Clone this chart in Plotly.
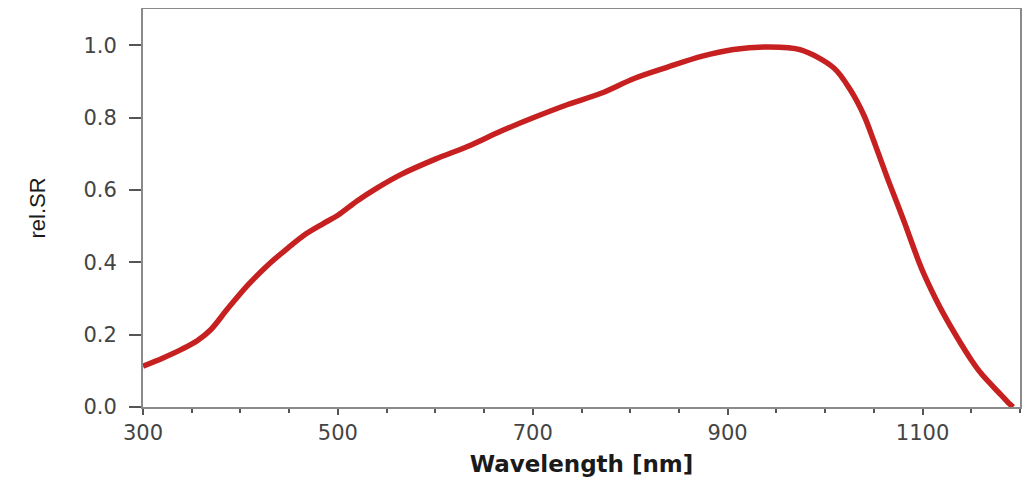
import plotly.graph_objects as go

wavelength = [300, 320, 340, 356, 370, 387, 408, 428, 449, 467, 485, 500, 520, 540,
              565, 600, 633, 667, 701, 736, 770, 804, 839, 873, 906, 941, 975, 1009,
              1026, 1040, 1050, 1065, 1080, 1095, 1101, 1110, 1120, 1136, 1150, 1160,
              1170, 1180, 1188, 1193]
rel_sr = [0.113, 0.135, 0.16, 0.184, 0.215, 0.272, 0.338, 0.392, 0.44, 0.478, 0.507,
          0.53, 0.57, 0.605, 0.643, 0.685, 0.72, 0.762, 0.80, 0.836, 0.867, 0.908,
          0.94, 0.969, 0.988, 0.995, 0.987, 0.937, 0.876, 0.805, 0.735, 0.625, 0.52,
          0.41, 0.37, 0.318, 0.265, 0.19, 0.13, 0.093, 0.063, 0.035, 0.012, 0.0]

x_ticks = [300, 500, 700, 900, 1100]
y_ticks = [0.0, 0.2, 0.4, 0.6, 0.8, 1.0]

fig = go.Figure()
fig.add_trace(go.Scatter(
    x=wavelength, y=rel_sr, mode="lines",
    line=dict(color="#C62020", width=5.5, shape="spline", smoothing=0.9),
    showlegend=False, hoverinfo="x+y",
))

fig.update_layout(
    width=1022, height=469,
    margin=dict(l=135, r=10, t=1, b=70),
    paper_bgcolor="white", plot_bgcolor="white",
    font=dict(family="DejaVu Sans", color="#444444"),
)
fig.update_xaxes(
    range=[300, 1200], tickvals=x_ticks, ticktext=[str(v) for v in x_ticks],
    automargin=False,
    showgrid=False, zeroline=False,
    showline=True, linecolor="#8a8a8a", linewidth=2, mirror=True,
    ticks="outside", ticklen=6, tickwidth=2, tickcolor="#555555",
    minor=dict(dtick=50, ticks="outside", ticklen=4, tickwidth=2, tickcolor="#555555", showgrid=False),
    tickfont=dict(family="DejaVu Sans", size=21, color="#444444"),
    title=dict(text="<b>Wavelength [nm]</b>", standoff=13,
               font=dict(family="DejaVu Sans", size=23, color="#1a1a1a")),
)
fig.update_yaxes(
    range=[0, 1.1], tickvals=y_ticks, ticktext=[f"{v:.1f}" for v in y_ticks],
    automargin=False,
    showgrid=False, zeroline=False,
    showline=True, linecolor="#8a8a8a", linewidth=2, mirror=True,
    ticks="outside", ticklen=12, tickwidth=2, tickcolor="#555555",
    ticklabelstandoff=8,
    tickfont=dict(family="DejaVu Sans", size=21, color="#444444"),
    title=dict(text="rel.SR", standoff=32,
               font=dict(family="Liberation Sans", size=22, color="#1a1a1a")),
)

fig.write_html("out.html")
